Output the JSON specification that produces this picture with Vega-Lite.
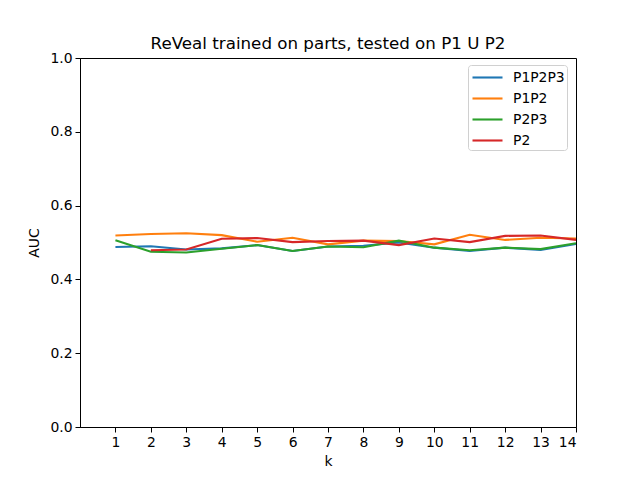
{
  "$schema": "https://vega.github.io/schema/vega-lite/v6.json",
  "autosize": "none",
  "width": 496,
  "height": 369,
  "padding": {"left": 80, "top": 58, "right": 64, "bottom": 53},
  "background": "white",
  "title": {
    "text": "ReVeal trained on parts, tested on P1 U P2",
    "font": "DejaVu Sans",
    "fontSize": 16.7,
    "fontWeight": "normal",
    "color": "black",
    "offset": -2
  },
  "data": {
    "values": [
      {"k": 1, "model": "P1P2P3", "auc": 0.488},
      {"k": 2, "model": "P1P2P3", "auc": 0.490},
      {"k": 3, "model": "P1P2P3", "auc": 0.481},
      {"k": 4, "model": "P1P2P3", "auc": 0.484},
      {"k": 5, "model": "P1P2P3", "auc": 0.493},
      {"k": 6, "model": "P1P2P3", "auc": 0.477},
      {"k": 7, "model": "P1P2P3", "auc": 0.489},
      {"k": 8, "model": "P1P2P3", "auc": 0.491},
      {"k": 9, "model": "P1P2P3", "auc": 0.500},
      {"k": 10, "model": "P1P2P3", "auc": 0.486},
      {"k": 11, "model": "P1P2P3", "auc": 0.477},
      {"k": 12, "model": "P1P2P3", "auc": 0.486},
      {"k": 13, "model": "P1P2P3", "auc": 0.480},
      {"k": 14, "model": "P1P2P3", "auc": 0.496},
      {"k": 1, "model": "P1P2", "auc": 0.519},
      {"k": 2, "model": "P1P2", "auc": 0.523},
      {"k": 3, "model": "P1P2", "auc": 0.525},
      {"k": 4, "model": "P1P2", "auc": 0.520},
      {"k": 5, "model": "P1P2", "auc": 0.502},
      {"k": 6, "model": "P1P2", "auc": 0.513},
      {"k": 7, "model": "P1P2", "auc": 0.495},
      {"k": 8, "model": "P1P2", "auc": 0.505},
      {"k": 9, "model": "P1P2", "auc": 0.504},
      {"k": 10, "model": "P1P2", "auc": 0.495},
      {"k": 11, "model": "P1P2", "auc": 0.521},
      {"k": 12, "model": "P1P2", "auc": 0.507},
      {"k": 13, "model": "P1P2", "auc": 0.513},
      {"k": 14, "model": "P1P2", "auc": 0.511},
      {"k": 1, "model": "P2P3", "auc": 0.506},
      {"k": 2, "model": "P2P3", "auc": 0.475},
      {"k": 3, "model": "P2P3", "auc": 0.473},
      {"k": 4, "model": "P2P3", "auc": 0.483},
      {"k": 5, "model": "P2P3", "auc": 0.493},
      {"k": 6, "model": "P2P3", "auc": 0.477},
      {"k": 7, "model": "P2P3", "auc": 0.489},
      {"k": 8, "model": "P2P3", "auc": 0.487},
      {"k": 9, "model": "P2P3", "auc": 0.505},
      {"k": 10, "model": "P2P3", "auc": 0.486},
      {"k": 11, "model": "P2P3", "auc": 0.479},
      {"k": 12, "model": "P2P3", "auc": 0.486},
      {"k": 13, "model": "P2P3", "auc": 0.482},
      {"k": 14, "model": "P2P3", "auc": 0.498},
      {"k": 2, "model": "P2", "auc": 0.479},
      {"k": 3, "model": "P2", "auc": 0.481},
      {"k": 4, "model": "P2", "auc": 0.510},
      {"k": 5, "model": "P2", "auc": 0.512},
      {"k": 6, "model": "P2", "auc": 0.501},
      {"k": 7, "model": "P2", "auc": 0.504},
      {"k": 8, "model": "P2", "auc": 0.505},
      {"k": 9, "model": "P2", "auc": 0.493},
      {"k": 10, "model": "P2", "auc": 0.511},
      {"k": 11, "model": "P2", "auc": 0.501},
      {"k": 12, "model": "P2", "auc": 0.518},
      {"k": 13, "model": "P2", "auc": 0.519},
      {"k": 14, "model": "P2", "auc": 0.507}
    ]
  },
  "mark": {"type": "line", "strokeWidth": 2.1, "clip": true},
  "encoding": {
    "x": {
      "field": "k",
      "type": "quantitative",
      "title": "k",
      "scale": {"domain": [0, 14], "nice": false, "zero": false},
      "axis": {"values": [1, 2, 3, 4, 5, 6, 7, 8, 9, 10, 11, 12, 13, 14], "format": "d", "titlePadding": 6}
    },
    "y": {
      "field": "auc",
      "type": "quantitative",
      "title": "AUC",
      "scale": {"domain": [0, 1], "nice": false},
      "axis": {"values": [0, 0.2, 0.4, 0.6, 0.8, 1.0], "format": ".1f", "titlePadding": 8}
    },
    "color": {
      "field": "model",
      "type": "nominal",
      "scale": {
        "domain": ["P1P2P3", "P1P2", "P2P3", "P2"],
        "range": ["#1f77b4", "#ff7f0e", "#2ca02c", "#d62728"]
      },
      "legend": {
        "title": null,
        "orient": "none",
        "legendX": 388,
        "legendY": 7,
        "symbolType": "M-1.667,0H1.667",
        "symbolStrokeWidth": 2.1,
        "symbolSize": 324,
        "symbolOffset": 7,
        "labelFont": "DejaVu Sans",
        "labelFontSize": 13.9,
        "labelColor": "black",
        "labelOffset": 15,
        "rowPadding": 3,
        "padding": 2,
        "strokeColor": "#d0d0d0",
        "fillColor": "white",
        "cornerRadius": 3
      }
    },
    "order": {"field": "k", "type": "quantitative"}
  },
  "config": {
    "view": {"stroke": "black", "strokeWidth": 1},
    "axis": {
      "grid": false,
      "domainColor": "black",
      "tickColor": "black",
      "tickSize": 5,
      "labelFont": "DejaVu Sans",
      "labelFontSize": 13.9,
      "labelColor": "black",
      "titleFont": "DejaVu Sans",
      "titleFontSize": 13.9,
      "titleFontWeight": "normal",
      "titleColor": "black",
      "labelPadding": 3
    }
  }
}
